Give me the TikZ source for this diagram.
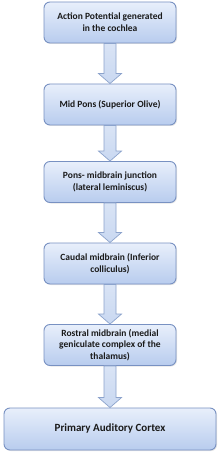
\documentclass[tikz,border=0pt]{standalone}
\usepackage{fontspec}
\setmainfont{Carlito}
\usetikzlibrary{calc,shadows}
\definecolor{boxtop}{HTML}{E8EFFB}
\definecolor{boxbot}{HTML}{B8CCEE}
\definecolor{boxline}{HTML}{7891C2}
\definecolor{arrfill}{HTML}{C9D8F1}
\definecolor{arrline}{HTML}{8CA3CC}
\definecolor{txt}{HTML}{1A1A1A}
\tikzset{
  flowbox/.style={draw=boxline, line width=0.9pt, rounded corners=6pt,
    top color=boxtop, bottom color=boxbot, minimum width=132pt, minimum height=41pt,
    inner sep=0pt, align=center, text=txt, font=\fontsize{9.5}{12}\selectfont\bfseries,
    drop shadow={opacity=0.2, shadow xshift=1pt, shadow yshift=-1pt}},
  blockarrow/.style={draw=arrline, line width=0.7pt, top color=arrfill!70!white, bottom color=arrfill, line join=miter}
}
\newcommand{\blockarrow}[2]{%
  \path[blockarrow] ($(#1.south)+(-6,0)$) -- ($(#2.north)+(-6,-10)$) -- ($(#2.north)+(-11.5,-10)$)
    -- (#2.north) -- ($(#2.north)+(11.5,-10)$) -- ($(#2.north)+(6,-10)$) -- ($(#1.south)+(6,0)$) -- cycle;}
\begin{document}
\begin{tikzpicture}[x=1pt,y=-1pt]
\useasboundingbox (0,0) rectangle (220,454);
\fill[white] (0,0) rectangle (220,454);
\node[flowbox] (b1) at (110,22.5) {Action Potential generated\\in the cochlea};
\node[flowbox] (b2) at (110,104.5) {Mid Pons (Superior Olive)};
\node[flowbox] (b3) at (110,182) {Pons- midbrain junction\\(lateral leminiscus)};
\node[flowbox] (b4) at (110,263.5) {Caudal midbrain (Inferior\\colliculus)};
\node[flowbox, font=\fontsize{9.5}{11.5}\selectfont\bfseries] (b5) at (110,345) {Rostral midbrain (medial\\geniculate complex of the\\thalamus)};
\node[flowbox, minimum width=212pt, minimum height=42pt, font=\fontsize{11}{13}\selectfont\bfseries] (b6) at (110,429) {Primary Auditory Cortex};
\blockarrow{b1}{b2}
\blockarrow{b2}{b3}
\blockarrow{b3}{b4}
\blockarrow{b4}{b5}
\blockarrow{b5}{b6}
\end{tikzpicture}
\end{document}
